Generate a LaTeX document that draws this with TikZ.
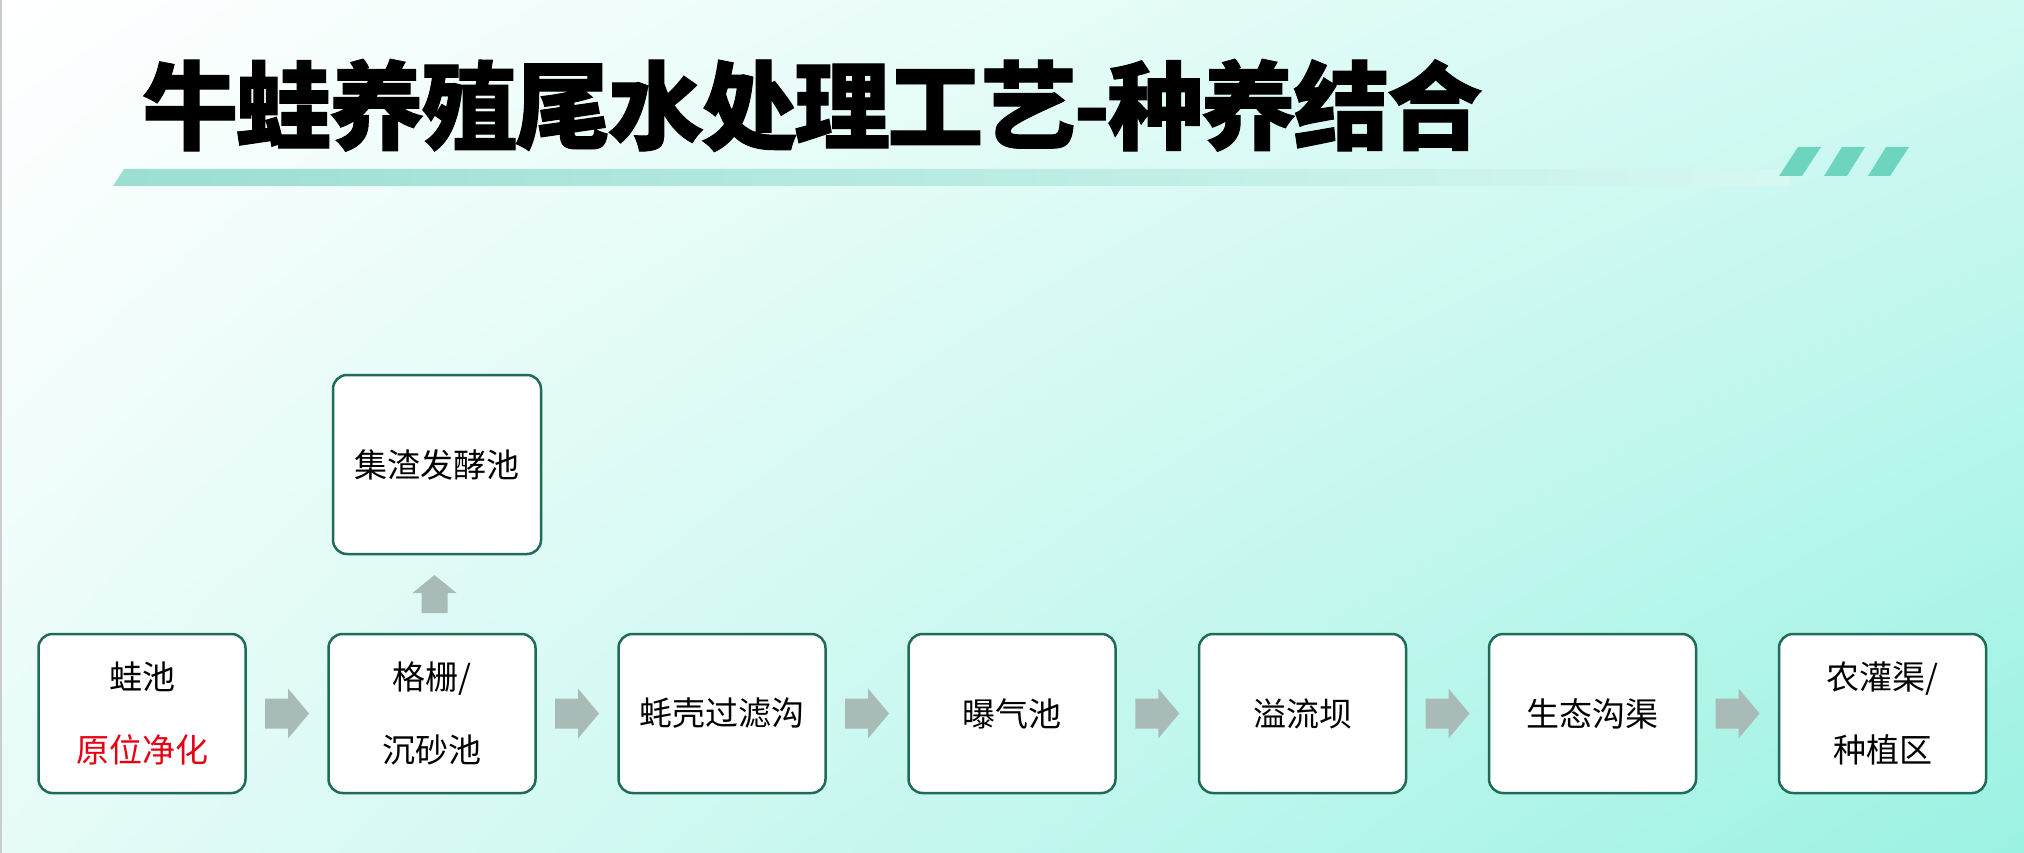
\documentclass[tikz,border=0pt]{standalone}
\usepackage{fontspec}
\newfontfamily\cjk{Noto Sans CJK SC}
\newfontfamily\cjktitle{Noto Sans CJK SC}[LetterSpace=-3, BoldFeatures={FakeBold=1}]
\usetikzlibrary{calc,shadings}
\definecolor{boxline}{HTML}{1E6B57}
\definecolor{arrowc}{HTML}{A9BBB6}
\definecolor{stripec}{HTML}{6DD5BE}
\definecolor{barc}{HTML}{9BDED2}
\definecolor{barend}{HTML}{D6F8F1}
\definecolor{bgtr}{HTML}{D0F9F2}
\definecolor{bgbl}{HTML}{E6FBF8}
\definecolor{bgbr}{HTML}{9BF2E2}
\definecolor{redtxt}{HTML}{E60012}
\tikzset{
  stepbox/.style={draw=boxline, line width=2.5pt, fill=white, rounded corners=14pt,
    minimum width=207pt, minimum height=159pt, inner sep=0pt, align=center,
    font=\cjk\fontsize{33}{73}\selectfont},
  rarrow/.pic={\fill[arrowc] (-22,-15) -- (1,-15) -- (1,-25) -- (22,0) -- (1,25) -- (1,15) -- (-22,15) -- cycle;},
  uarrow/.pic={\fill[arrowc] (-13,19) -- (-13,-1) -- (-22,-1) -- (0,-19) -- (22,-1) -- (13,-1) -- (13,19) -- cycle;},
  stripe/.style={fill=stripec}
}
\begin{document}
\begin{tikzpicture}[x=1pt,y=-1pt]
\useasboundingbox (0,0) rectangle (2024,853);
% background
\shade[upper left=white, upper right=bgtr, lower left=bgbl, lower right=bgbr] (0,0) rectangle (2024,853);
\draw[gray!40, line width=2pt] (1,0) -- (1,853);
% title bar
\shade[left color=barc, right color=barend] (113,186) -- (124,169) -- (1790,169) -- (1790,186) -- cycle;
\fill[stripe] (1779,176) -- (1802,176) -- (1821,147) -- (1798,147) -- cycle;
\fill[stripe] (1824,176) -- (1847,176) -- (1865,147) -- (1842,147) -- cycle;
\fill[stripe] (1868,176) -- (1890,176) -- (1909,147) -- (1886,147) -- cycle;
% title
\node[anchor=base west, inner sep=0pt, font=\cjktitle\bfseries\fontsize{96}{100}\selectfont] (title) at (142,142) {牛蛙养殖尾水处理工艺-种养结合};
% boxes
\node[stepbox] (b1) at (142,713.5) {蛙池\\\textcolor{redtxt}{原位净化}};
\node[stepbox] (b2) at (432,713.5) {格栅/\\沉砂池};
\node[stepbox] (b3) at (722,713.5) {蚝壳过滤沟};
\node[stepbox] (b4) at (1012,713.5) {曝气池};
\node[stepbox] (b5) at (1302.5,713.5) {溢流坝};
\node[stepbox] (b6) at (1592.5,713.5) {生态沟渠};
\node[stepbox] (b7) at (1882.5,713.5) {农灌渠/\\种植区};
\node[stepbox, minimum width=208pt, minimum height=179pt] (t) at (437,464.5) {集渣发酵池};
% arrows
\foreach \a/\b in {b1/b2,b2/b3,b3/b4,b4/b5,b5/b6,b6/b7}
  \pic at ($(\a.east)!0.5!(\b.west)$) {rarrow};
\pic at ($(b2.north)!0.5!(t.south)$) {uarrow};
\end{tikzpicture}
\end{document}
